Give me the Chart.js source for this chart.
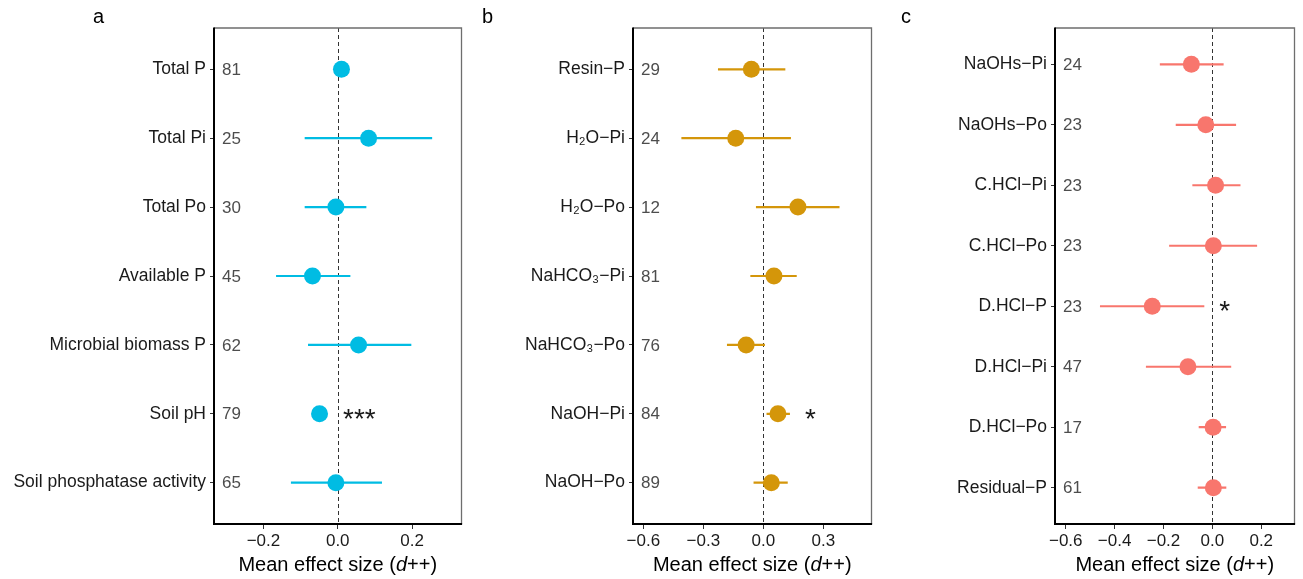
<!DOCTYPE html>
<html>
<head>
<meta charset="utf-8">
<script src="https://cdn.jsdelivr.net/npm/chart.js@4/dist/chart.umd.min.js"></script>
<style>
    body { margin: 0; background: #fff; width: 1303px; height: 579px; overflow: hidden; position: relative; font-family: "Liberation Sans", Arial, sans-serif; }
    .panel { position: absolute; top: 0; height: 579px; }
    .letter { position: absolute; top: 5px; font-size: 20px; color: #000; }
</style>
</head>
<body>
<div class="panel" style="left:0;width:470px"><canvas id="chart-a" width="470" height="579"></canvas></div>
<div class="panel" style="left:470px;width:410px"><canvas id="chart-b" width="410" height="579"></canvas></div>
<div class="panel" style="left:880px;width:423px"><canvas id="chart-c" width="423" height="579"></canvas></div>
<div class="letter" style="left:93px">a</div>
<div class="letter" style="left:482px">b</div>
<div class="letter" style="left:901px">c</div>

<script>
// Panel a - total P pools and soil properties
const labelsA = ['Total P', 'Total Pi', 'Total Po', 'Available P', 'Microbial biomass P', 'Soil pH', 'Soil phosphatase activity'];
const meanA = [0.010, 0.083, -0.005, -0.068, 0.056, -0.049, -0.005];
const lowA = [0.000, -0.089, -0.089, -0.166, -0.080, -0.063, -0.126];
const highA = [0.020, 0.254, 0.077, 0.034, 0.198, -0.035, 0.119];
const countA = [81, 25, 30, 45, 62, 79, 65];
const sigA = ['', '', '', '', '', '***', ''];
const ticksA = [-0.2, 0, 0.2];

// Panel b - Hedley fractions I
const labelsB = ['Resin\u2212P', 'H\u2082O\u2212Pi', 'H\u2082O\u2212Po', 'NaHCO\u2083\u2212Pi', 'NaHCO\u2083\u2212Po', 'NaOH\u2212Pi', 'NaOH\u2212Po'];
const meanB = [-0.060, -0.138, 0.173, 0.053, -0.086, 0.073, 0.040];
const lowB = [-0.227, -0.410, -0.037, -0.065, -0.182, 0.016, -0.049];
const highB = [0.110, 0.138, 0.381, 0.167, 0.008, 0.133, 0.122];
const countB = [29, 24, 12, 81, 76, 84, 89];
const sigB = ['', '', '', '', '', '*', ''];
const ticksB = [-0.6, -0.3, 0, 0.3];

// Panel c - Hedley fractions II
const labelsC = ['NaOHs\u2212Pi', 'NaOHs\u2212Po', 'C.HCl\u2212Pi', 'C.HCl\u2212Po', 'D.HCl\u2212P', 'D.HCl\u2212Pi', 'D.HCl\u2212Po', 'Residual\u2212P'];
const meanC = [-0.086, -0.027, 0.013, 0.004, -0.246, -0.100, 0.003, 0.004];
const lowC = [-0.215, -0.150, -0.082, -0.177, -0.460, -0.272, -0.056, -0.060];
const highC = [0.046, 0.097, 0.115, 0.183, -0.033, 0.077, 0.056, 0.057];
const countC = [24, 23, 23, 23, 23, 47, 17, 61];
const sigC = ['', '', '', '', '*', '', '', ''];
const ticksC = [-0.6, -0.4, -0.2, 0, 0.2];

const FONT = '"Liberation Sans", Arial, sans-serif';
const POINT_R = 8.5;

function fmtTick(v) {
    if (Math.abs(v) < 1e-9) return '0.0';
    return (v < 0 ? '\u2212' : '') + Math.abs(v).toFixed(1);
}

// draws frame, zero line, counts, asterisks and the x title
const forestPlugin = {
    id: 'forest',
    beforeDatasetsDraw(chart) {
        const ctx = chart.ctx;
        const area = chart.chartArea;
        const x0 = chart.scales.x.getPixelForValue(0);
        ctx.save();
        ctx.strokeStyle = '#333';
        ctx.lineWidth = 1;
        ctx.setLineDash([4, 3]);
        ctx.beginPath();
        ctx.moveTo(Math.round(x0) + 0.5, area.top);
        ctx.lineTo(Math.round(x0) + 0.5, area.bottom);
        ctx.stroke();
        ctx.restore();
    },
    afterDatasetsDraw(chart, args, opts) {
        const ctx = chart.ctx;
        const area = chart.chartArea;
        const xs = chart.scales.x;
        const ys = chart.scales.y;

        ctx.save();
        // top and right border (grey), left and bottom axis (black)
        ctx.strokeStyle = '#6e6e6e';
        ctx.lineWidth = 1.3;
        ctx.beginPath();
        ctx.moveTo(area.left, area.top);
        ctx.lineTo(area.right, area.top);
        ctx.lineTo(area.right, area.bottom);
        ctx.stroke();
        ctx.strokeStyle = '#000';
        ctx.lineWidth = 2;
        ctx.beginPath();
        ctx.moveTo(area.left, area.top - 0.6);
        ctx.lineTo(area.left, area.bottom);
        ctx.lineTo(area.right + 0.6, area.bottom);
        ctx.stroke();

        // sample sizes
        ctx.fillStyle = '#4d4d4d';
        ctx.font = '17px ' + FONT;
        ctx.textAlign = 'left';
        ctx.textBaseline = 'middle';
        opts.counts.forEach((n, i) => {
            ctx.fillText(String(n), area.left + 8, ys.getPixelForValue(i) + 1);
        });

        // significance stars
        ctx.fillStyle = '#1a1a1a';
        ctx.font = '28px ' + FONT;
        ctx.textBaseline = 'alphabetic';
        opts.sig.forEach((s, i) => {
            if (!s) return;
            const edge = Math.max(xs.getPixelForValue(opts.high[i]), xs.getPixelForValue(opts.mean[i]) + POINT_R);
            ctx.fillText(s, edge + 15, ys.getPixelForValue(i) + 14);
        });

        // x axis title with italic d
        const parts = [['Mean effect size (', ''], ['d', 'italic '], ['++)', '']];
        let total = 0;
        parts.forEach(p => { ctx.font = p[1] + '20px ' + FONT; total += ctx.measureText(p[0]).width; });
        let x = (area.left + area.right) / 2 - total / 2;
        ctx.fillStyle = '#000';
        parts.forEach(p => {
            ctx.font = p[1] + '20px ' + FONT;
            ctx.fillText(p[0], x, 571);
            x += ctx.measureText(p[0]).width;
        });
        ctx.restore();
    }
};

function makePanel(id, cfg) {
    const ctx = document.getElementById(id).getContext('2d');
    const errorSets = cfg.labels.map((_, i) => ({
        type: 'line',
        data: [{ x: cfg.low[i], y: i }, { x: cfg.high[i], y: i }],
        borderColor: cfg.color,
        borderWidth: 2.2,
        pointRadius: 0,
        showLine: true,
        order: 2
    }));
    const pointSet = {
        type: 'scatter',
        data: cfg.mean.map((m, i) => ({ x: m, y: i })),
        backgroundColor: cfg.color,
        borderWidth: 0,
        pointRadius: POINT_R,
        order: 1
    };
    return new Chart(ctx, {
        type: 'scatter',
        data: { datasets: [pointSet, ...errorSets] },
        plugins: [forestPlugin],
        options: {
            responsive: false,
            animation: false,
            layout: { padding: { top: 28, right: cfg.padRight, left: 0, bottom: 0 } },
            plugins: {
                legend: { display: false },
                tooltip: { enabled: false },
                forest: { counts: cfg.counts, sig: cfg.sig, mean: cfg.mean, high: cfg.high }
            },
            scales: {
                x: {
                    type: 'linear',
                    min: cfg.xMin,
                    max: cfg.xMax,
                    afterBuildTicks: (scale) => { scale.ticks = cfg.ticks.map(v => ({ value: v })); },
                    afterFit: (scale) => { scale.height = 55; },
                    border: { display: false },
                    grid: { drawOnChartArea: false, drawTicks: true, tickLength: 5, color: '#333', lineWidth: 1 },
                    ticks: {
                        callback: (v) => fmtTick(v),
                        color: '#1a1a1a',
                        font: { family: FONT, size: 17 },
                        padding: 2,
                        maxRotation: 0
                    }
                },
                y: {
                    type: 'linear',
                    reverse: true,
                    min: -0.6,
                    max: cfg.labels.length - 1 + 0.6,
                    afterBuildTicks: (scale) => { scale.ticks = cfg.labels.map((_, i) => ({ value: i })); },
                    afterFit: (scale) => { scale.width = cfg.axisWidth; },
                    border: { display: false },
                    grid: { drawOnChartArea: false, drawTicks: true, tickLength: 4, color: '#333', lineWidth: 1 },
                    ticks: {
                        callback: (v) => cfg.labels[v],
                        color: '#1a1a1a',
                        font: { family: FONT, size: 17.5 },
                        padding: 4
                    }
                }
            }
        }
    });
}

makePanel('chart-a', {
    labels: labelsA, mean: meanA, low: lowA, high: highA, counts: countA, sig: sigA,
    ticks: ticksA, xMin: -0.333, xMax: 0.333, color: '#00bce3', axisWidth: 214, padRight: 8
});
makePanel('chart-b', {
    labels: labelsB, mean: meanB, low: lowB, high: highB, counts: countB, sig: sigB,
    ticks: ticksB, xMin: -0.652, xMax: 0.541, color: '#d4960a', axisWidth: 163, padRight: 2
});
makePanel('chart-c', {
    labels: labelsC, mean: meanC, low: lowC, high: highC, counts: countC, sig: sigC,
    ticks: ticksC, xMin: -0.644, xMax: 0.336, color: '#f8766d', axisWidth: 175, padRight: 2
});
</script>
</body>
</html>
